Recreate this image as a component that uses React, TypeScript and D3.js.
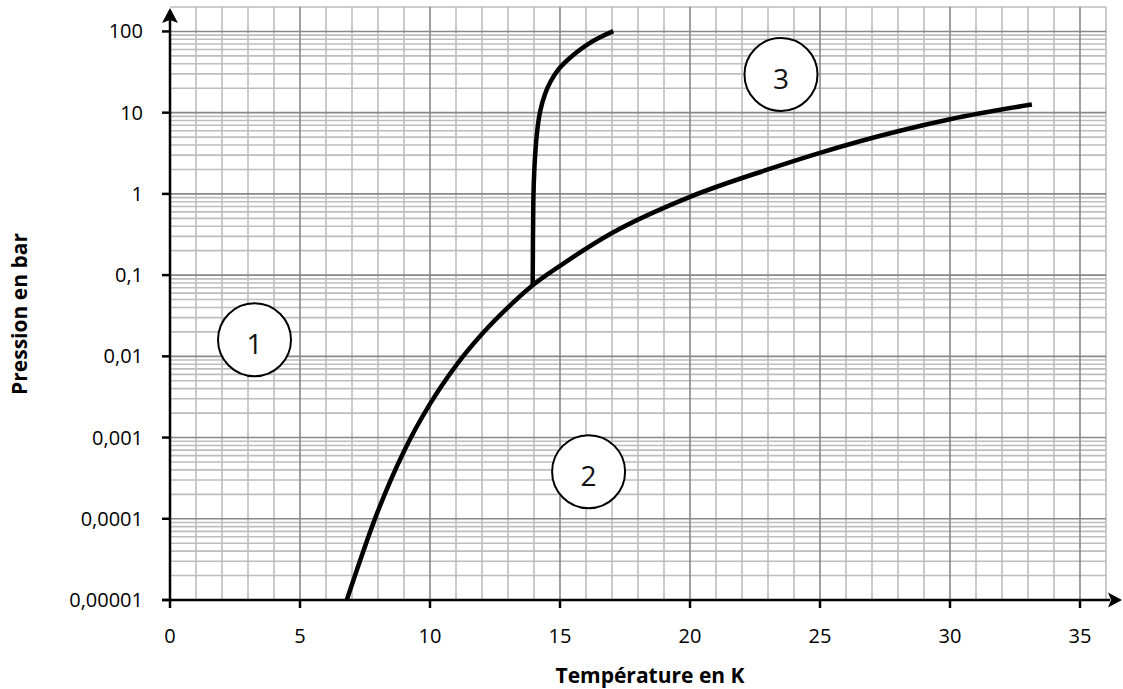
import React from "react";
import * as d3 from "d3";

const W = 1123;
const H = 689;

// Sublimation + vaporisation curve (T in K, P in bar)
const vapourT = [6.8, 8.0, 9.0, 10.0, 11.0, 12.0, 13.0, 13.95, 15.0, 17.0, 20.0, 23.0, 25.0, 28.0, 30.0, 33.15];
const vapourP = [1e-5, 1.25e-4, 6.8e-4, 0.0026, 0.0077, 0.0188, 0.040, 0.075, 0.13, 0.33, 0.92, 2.0, 3.2, 5.9, 8.3, 12.6];

// Melting curve
const meltT = [13.95, 13.96, 13.97, 14.01, 14.1, 14.23, 14.42, 14.62, 14.93, 15.26, 15.64, 16.03, 16.54, 17.05];
const meltP = [0.075, 0.3, 0.84, 2.16, 5.57, 10.8, 17.3, 24.1, 34.5, 43.9, 55.8, 69.0, 85.5, 101];

const xTicks = [0, 5, 10, 15, 20, 25, 30, 35];
const yTicks = [100, 10, 1, 0.1, 0.01, 0.001, 0.0001, 0.00001];
const yTickLabels = ["100", "10", "1", "0,1", "0,01", "0,001", "0,0001", "0,00001"];

const zoneLabels = ["1", "2", "3"];
const zoneT = [3.25, 16.1, 23.5];
const zoneP = [0.016, 0.00038, 29.5];

export default function App() {
  const x = d3.scaleLinear().domain([0, 36]).range([170, 1106]);
  const y = d3.scaleLog().domain([1e-5, 200]).range([600, 7]);

  const font = "'Open Sans', sans-serif";

  // grid
  const vLines = d3.range(1, 37);
  const hMinor: number[] = [];
  for (let e = -5; e <= 2; e++) {
    for (let k = 2; k <= 9; k++) {
      const v = k * Math.pow(10, e);
      if (v <= 200.0001) hMinor.push(v);
    }
  }

  const vapGen = d3
    .line<[number, number]>()
    .x((d) => x(d[0]))
    .y((d) => y(d[1]))
    .curve(d3.curveMonotoneX);
  const meltGen = d3
    .line<[number, number]>()
    .x((d) => x(d[0]))
    .y((d) => y(d[1]))
    .curve(d3.curveBasis);

  const vap = vapGen(vapourT.map((t, i) => [t, vapourP[i]] as [number, number])) || "";
  const melt = meltGen(meltT.map((t, i) => [t, meltP[i]] as [number, number])) || "";

  const x0 = x(0);
  const y0 = y(1e-5);

  return (
    <svg
      width={W}
      height={H}
      style={{ position: "absolute", left: 0, top: 0, display: "block", background: "#fff" }}
    >
      {/* minor horizontal grid */}
      {hMinor.map((v, i) => (
        <line key={"hm" + i} x1={x0} x2={x(36)} y1={y(v)} y2={y(v)} stroke="#bdbdbd" strokeWidth={1.6} />
      ))}
      {/* vertical grid */}
      {vLines.map((t) => (
        <line
          key={"v" + t}
          x1={x(t)}
          x2={x(t)}
          y1={y(200)}
          y2={y0}
          stroke={t % 5 === 0 ? "#888888" : "#bdbdbd"}
          strokeWidth={1.6}
        />
      ))}
      {/* major horizontal grid */}
      {yTicks.map((v, i) => (
        <line key={"hM" + i} x1={x0} x2={x(36)} y1={y(v)} y2={y(v)} stroke="#888888" strokeWidth={1.6} />
      ))}

      {/* curves */}
      <path d={vap} fill="none" stroke="#000" strokeWidth={4.5} strokeLinecap="butt" strokeLinejoin="round" />
      <path d={melt} fill="none" stroke="#000" strokeWidth={4.5} strokeLinecap="butt" strokeLinejoin="round" />

      {/* zone circles */}
      {zoneLabels.map((lab, i) => (
        <g key={"z" + i}>
          <circle cx={x(zoneT[i])} cy={y(zoneP[i])} r={36.5} fill="#fff" stroke="#000" strokeWidth={2} />
          <text
            x={x(zoneT[i])}
            y={y(zoneP[i]) + 14}
            textAnchor="middle"
            fontFamily={font}
            fontSize={28}
            fill="#111"
          >
            {lab}
          </text>
        </g>
      ))}

      {/* axes */}
      <line x1={x0} x2={x0} y1={y0} y2={20} stroke="#000" strokeWidth={2.5} />
      <path d={`M${x0},8 L${x0 + 8},23 L${x0},20 L${x0 - 8},23 Z`} fill="#000" />
      <line x1={x0 - 8} x2={1110} y1={y0} y2={y0} stroke="#000" strokeWidth={2.5} />
      <path d={`M1122,${y0} L1108,${y0 + 7.5} L1111,${y0} L1108,${y0 - 7.5} Z`} fill="#000" />

      {/* y ticks */}
      {yTicks.map((v, i) => (
        <g key={"yt" + i}>
          <line x1={x0 - 8} x2={x0} y1={y(v)} y2={y(v)} stroke="#000" strokeWidth={2.5} />
          <text x={143} y={y(v) + 7} textAnchor="end" fontFamily={font} fontSize={20} fill="#000">
            {yTickLabels[i]}
          </text>
        </g>
      ))}
      {/* x ticks */}
      {xTicks.map((t) => (
        <g key={"xt" + t}>
          <line x1={x(t)} x2={x(t)} y1={y0} y2={y0 + 8} stroke="#000" strokeWidth={2.5} />
          <text x={x(t)} y={643} textAnchor="middle" fontFamily={font} fontSize={20} fill="#000">
            {t}
          </text>
        </g>
      ))}

      {/* axis titles */}
      <text x={650} y={683} textAnchor="middle" fontFamily={font} fontSize={21} fontWeight="bold" fill="#000">
        Température en K
      </text>
      <text
        transform={`translate(27,314) rotate(-90)`}
        textAnchor="middle"
        fontFamily={font}
        fontSize={21}
        fontWeight="bold"
        fill="#000"
      >
        Pression en bar
      </text>
    </svg>
  );
}
